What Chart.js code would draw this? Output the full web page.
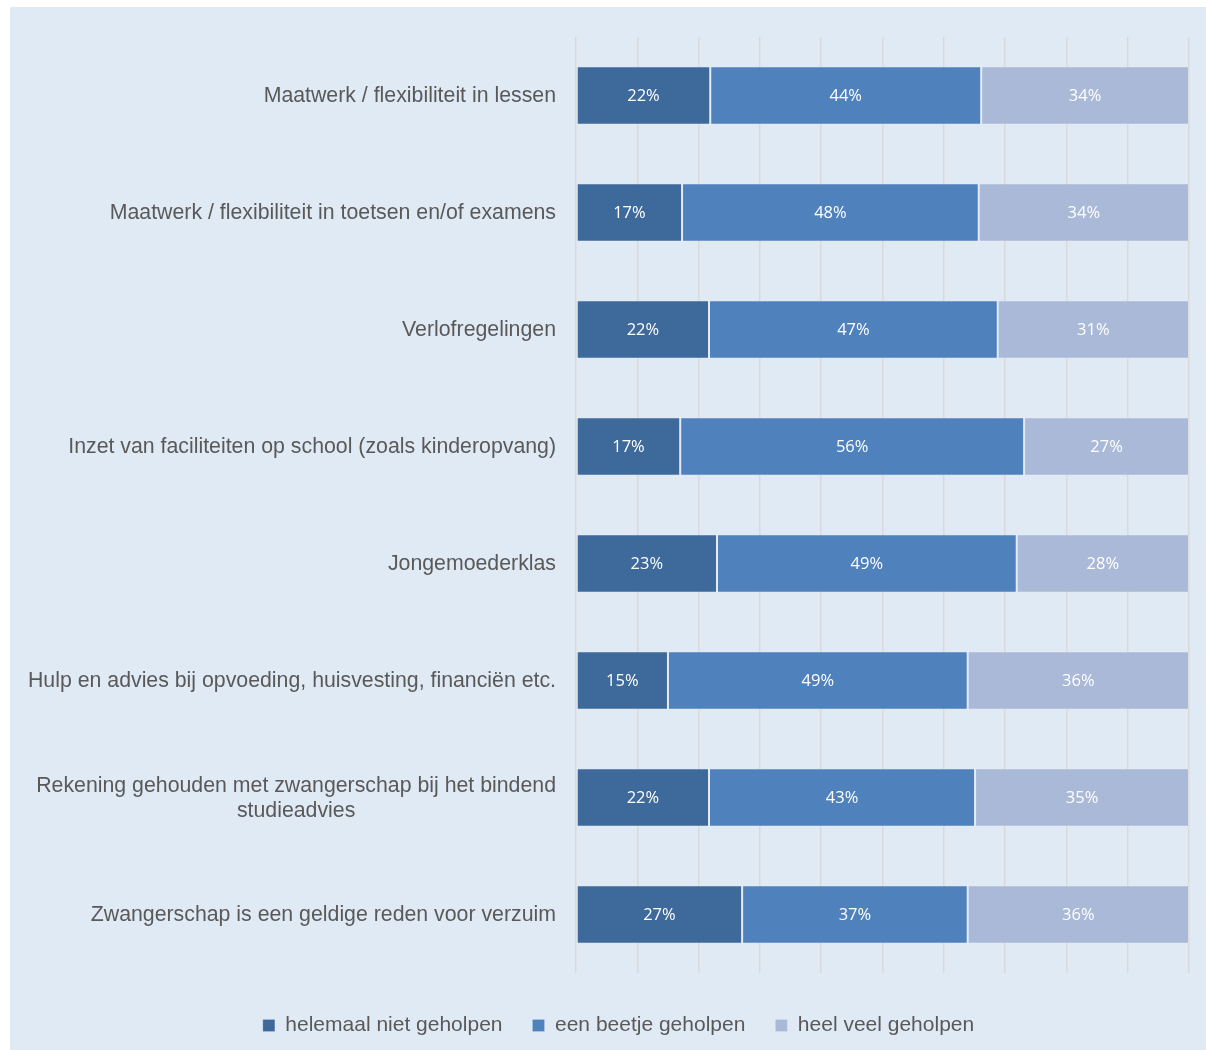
<!DOCTYPE html>
<html>
<head>
<meta charset="utf-8">
<script src="https://cdn.jsdelivr.net/npm/chart.js@4"></script>
<style>
  html, body { margin: 0; padding: 0; background: #fff; }
  #wrap { position: absolute; left: 10px; top: 7px; width: 1196px; height: 1043px; background: #E0EAF5; }
</style>
</head>
<body>
<div id="wrap"><canvas id="chart"></canvas></div>
<script>
// categories (multi-line labels as arrays)
const categories = [
  'Maatwerk / flexibiliteit in lessen',
  'Maatwerk / flexibiliteit in toetsen en/of examens',
  'Verlofregelingen',
  'Inzet van faciliteiten op school (zoals kinderopvang)',
  'Jongemoederklas',
  'Hulp en advies bij opvoeding, huisvesting, financiën etc.',
  ['Rekening gehouden met zwangerschap bij het bindend', 'studieadvies'],
  'Zwangerschap is een geldige reden voor verzuim'
];

const seriesNames = ['helemaal niet geholpen', 'een beetje geholpen', 'heel veel geholpen'];

// percentages
const nietGeholpen = [21.9, 17.3, 21.7, 17.0, 23.0, 15.0, 21.7, 27.1];
const beetjeGeholpen = [44.2, 48.4, 47.1, 56.1, 48.9, 48.9, 43.4, 36.8];
const veelGeholpen = [33.9, 34.3, 31.2, 26.9, 28.1, 36.1, 34.9, 36.1];

const colors = ['#3E6A9B', '#4F81BD', '#AAB9D7'];

// white percentage labels in the middle of each segment
const barLabels = {
  id: 'barLabels',
  afterDatasetsDraw(chart) {
    const ctx = chart.ctx;
    ctx.save();
    ctx.fillStyle = '#ffffff';
    ctx.font = '16.5px "Open Sans"';
    ctx.textAlign = 'center';
    ctx.textBaseline = 'middle';
    chart.data.datasets.forEach((ds, i) => {
      chart.getDatasetMeta(i).data.forEach((bar, j) => {
        const p = bar.getProps(['x', 'y', 'base'], true);
        ctx.fillText(Math.round(ds.data[j]) + '%', (p.x + p.base) / 2, p.y + 1);
      });
    });
    ctx.restore();
  }
};

// category labels: block right aligned, lines centred inside the block
const catLabels = {
  id: 'catLabels',
  afterDraw(chart) {
    const ctx = chart.ctx;
    const y = chart.scales.y;
    ctx.save();
    ctx.fillStyle = '#595959';
    ctx.font = '21.3px "Liberation Sans", Arial';
    ctx.textAlign = 'center';
    ctx.textBaseline = 'middle';
    const lh = 25;
    categories.forEach((c, i) => {
      const lines = Array.isArray(c) ? c : [c];
      const widest = Math.max(...lines.map(l => ctx.measureText(l).width));
      const cx = y.right - 20 - widest / 2;
      const cy = y.getPixelForValue(i) + 1 - (lines.length - 1) * lh / 2;
      lines.forEach((l, k) => ctx.fillText(l, cx, cy + k * lh));
    });
    ctx.restore();
  }
};

const ctx = document.getElementById('chart').getContext('2d');
ctx.canvas.width = 1196;
ctx.canvas.height = 1043;

new Chart(ctx, {
  type: 'bar',
  data: {
    labels: categories,
    datasets: [
      { label: seriesNames[0], data: nietGeholpen, backgroundColor: colors[0] },
      { label: seriesNames[1], data: beetjeGeholpen, backgroundColor: colors[1] },
      { label: seriesNames[2], data: veelGeholpen, backgroundColor: colors[2] }
    ]
  },
  options: {
    indexAxis: 'y',
    responsive: false,
    animation: false,
    devicePixelRatio: 1,
    datasets: {
      bar: {
        categoryPercentage: 1,
        barPercentage: 0.5,
        borderWidth: 1,
        borderColor: 'rgba(255,255,255,0.15)',
        borderSkipped: false
      }
    },
    layout: { padding: { left: 38, right: 17, top: 30, bottom: 4 } },
    scales: {
      x: {
        stacked: true,
        min: 0,
        max: 100,
        ticks: { display: false, stepSize: 10 },
        grid: { color: '#D9D9D9', lineWidth: 1.5, drawTicks: false },
        border: { display: false },
        afterFit(scale) { scale.height += 12; }
      },
      y: {
        stacked: true,
        ticks: { display: false },
        grid: { display: false },
        border: { display: false },
        afterFit(scale) { scale.width = 528; }
      }
    },
    plugins: {
      legend: {
        position: 'bottom',
        labels: {
          boxWidth: 12,
          boxHeight: 12,
          padding: 30,
          color: '#595959',
          font: { family: '"Liberation Sans", Arial', size: 21 }
        }
      },
      tooltip: { enabled: false }
    }
  },
  plugins: [barLabels, catLabels]
});
</script>
</body>
</html>
